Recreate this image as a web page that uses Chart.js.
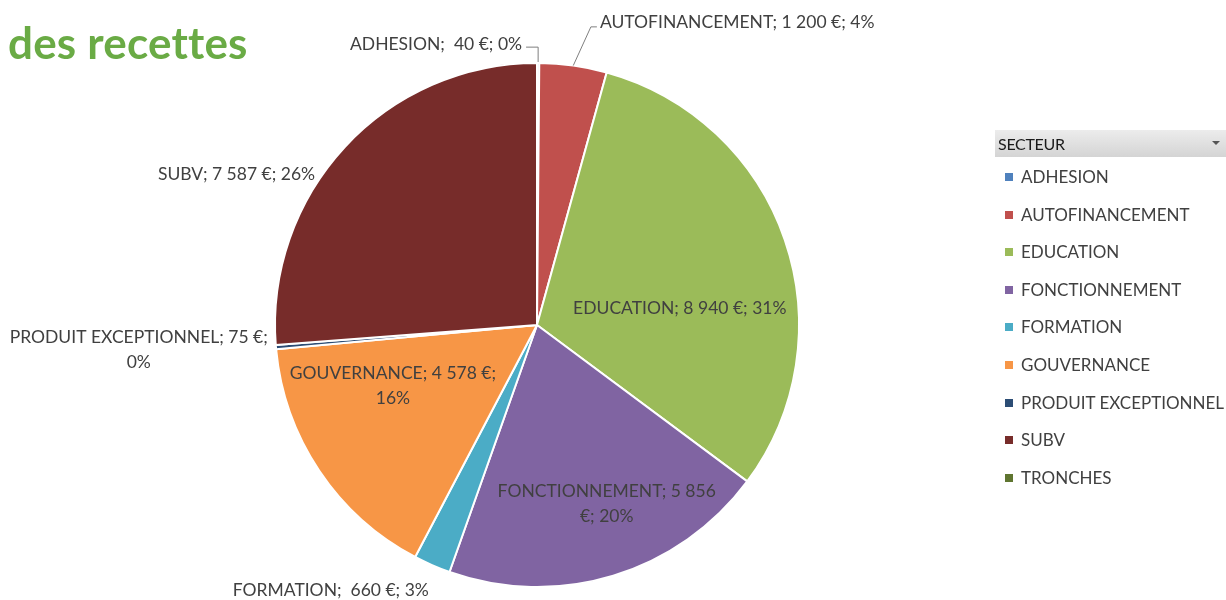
<!DOCTYPE html>
<html><head><meta charset="utf-8">
<script src="https://cdn.jsdelivr.net/npm/chart.js@4/dist/chart.umd.min.js"></script>
<style>
html,body{margin:0;padding:0;background:#fff;width:1226px;height:600px;overflow:hidden;}
#wrap{position:relative;width:1226px;height:600px;}
#chart{position:absolute;left:0;top:0;}
#title{position:absolute;left:8px;top:20px;margin:0;font:bold 44px Lato, sans-serif;line-height:44px;color:#6aab45;letter-spacing:0.2px;}
#legend{position:absolute;left:995px;top:130px;width:231px;font-family:Lato, sans-serif;color:#404040;}
#legend .head{height:27px;background:linear-gradient(#ececec,#d4d4d4);position:relative;font-size:16px;line-height:27px;padding-left:3px;color:#1a1a1a;letter-spacing:-0.3px;}
#legend .head .tri{position:absolute;right:6px;top:11px;width:0;height:0;border-left:4px solid transparent;border-right:4px solid transparent;border-top:4px solid #555;}
#legend .item{position:absolute;left:0;height:20px;line-height:20px;font-size:17px;white-space:nowrap;}
#legend .sw{position:absolute;left:10px;top:6px;width:8px;height:8px;}
#legend .txt{position:absolute;left:26px;top:0;}
</style></head>
<body><div id="wrap">
<canvas id="chart" width="1226" height="600"></canvas>
<h1 id="title">des recettes</h1>
<div id="legend"></div>
</div>
<script>
// ---- data ----
const categories = ['ADHESION','AUTOFINANCEMENT','EDUCATION','FONCTIONNEMENT','FORMATION','GOUVERNANCE','PRODUIT EXCEPTIONNEL','SUBV','TRONCHES'];
const amounts = [40, 1200, 8940, 5856, 660, 4578, 75, 7587, 0];
const percentLabels = ['0%','4%','31%','20%','3%','16%','0%','26%',''];
const legendTitle = 'SECTEUR';
const pageTitle = 'des recettes';

// ---- styles ----
const colors = ['#4f81bd','#c0504d','#9bbb59','#8064a2','#4bacc6','#f79646','#2c4d75','#772c2a','#5f7530'];
// label placement relative to pie centre, in units of the radius
const labelLayout = [
  {fx:-0.057, fy:-1.072, align:'right', firstLine:99, leader:'elbowDown', wide:true},
  {fx: 0.240, fy:-1.157, align:'left',  firstLine:99, leader:'diag'},
  {fx: 0.545, fy:-0.065, align:'center',firstLine:99},
  {fx: 0.266, fy: 0.684, align:'center',firstLine:2},
  {fx:-0.787, fy: 1.012, align:'center',firstLine:99, wide:true},
  {fx:-0.550, fy: 0.232, align:'center',firstLine:3},
  {fx:-1.520, fy: 0.095, align:'center',firstLine:4},
  {fx:-1.147, fy:-0.574, align:'center',firstLine:99},
  null
];
const LABEL_FONT = '17.5px Lato, sans-serif';
const LINE_H = 25;

function fmt(n){ return String(n).replace(/\B(?=(\d{3})+(?!\d))/g,'\u00a0'); }
function tokens(i){
  return categories[i].split(' ').map((w,k,a)=> k===a.length-1 ? w+';' : w)
    .concat([fmt(amounts[i]), '€;', percentLabels[i]]);
}

const sliceLabels = {
  id:'sliceLabels',
  afterDatasetsDraw(chart){
    const ctx = chart.ctx;
    const meta = chart.getDatasetMeta(0);
    ctx.save();
    ctx.font = LABEL_FONT;
    ctx.fillStyle = '#404040';
    ctx.textBaseline = 'middle';
    meta.data.forEach((arc,i)=>{
      const L = labelLayout[i];
      if(!L || !amounts[i]) return;
      const p = arc.getProps(['x','y','outerRadius','startAngle','endAngle'], true);
      const r = p.outerRadius;
      const tx = p.x + L.fx*r, ty = p.y + L.fy*r;
      const t = tokens(i);
      if (L.wide) t[0] = t[0] + '\u00a0';
      const lines = [t.slice(0,L.firstLine).join(' ')];
      if (t.length > L.firstLine) lines.push(t.slice(L.firstLine).join(' '));
      ctx.textAlign = L.align;
      const y0 = ty - (lines.length-1)*LINE_H/2;
      lines.forEach((s,k)=> ctx.fillText(s, tx, y0 + k*LINE_H));
      if (L.leader){
        const mid = (p.startAngle + p.endAngle)/2;
        const ex = p.x + Math.cos(mid)*r, ey = p.y + Math.sin(mid)*r;
        ctx.strokeStyle = '#7f7f7f'; ctx.lineWidth = 1;
        ctx.beginPath();
        if (L.leader === 'elbowDown'){
          ctx.moveTo(tx+4, ty+3); ctx.lineTo(ex, ty+3); ctx.lineTo(ex, ey-1);
        } else {
          ctx.moveTo(tx-3, ty+5); ctx.lineTo(tx-9, ty+5); ctx.lineTo(ex, ey);
        }
        ctx.stroke();
      }
    });
    ctx.restore();
  }
};

const chart = new Chart(document.getElementById('chart'), {
  type:'pie',
  data:{ labels: categories, datasets:[{ data: amounts, backgroundColor: colors, borderColor:'#ffffff', borderWidth:2 }] },
  options:{
    responsive:false, animation:false,
    layout:{ padding:{ top:62, bottom:12, left:274, right:426 } },
    plugins:{ legend:{display:false}, tooltip:{enabled:false} }
  },
  plugins:[sliceLabels]
});

// HTML legend from chart data
const lg = document.getElementById('legend');
lg.innerHTML = '<div class="head">'+legendTitle+'<span class="tri"></span></div>';
chart.data.labels.forEach((lab,i)=>{
  const d = document.createElement('div');
  d.className = 'item';
  d.style.top = (37 + i*37.6) + 'px';
  d.innerHTML = '<span class="sw" style="background:'+chart.data.datasets[0].backgroundColor[i]+'"></span><span class="txt">'+lab+'</span>';
  lg.appendChild(d);
});
document.getElementById('title').textContent = pageTitle;
</script>
</body></html>
